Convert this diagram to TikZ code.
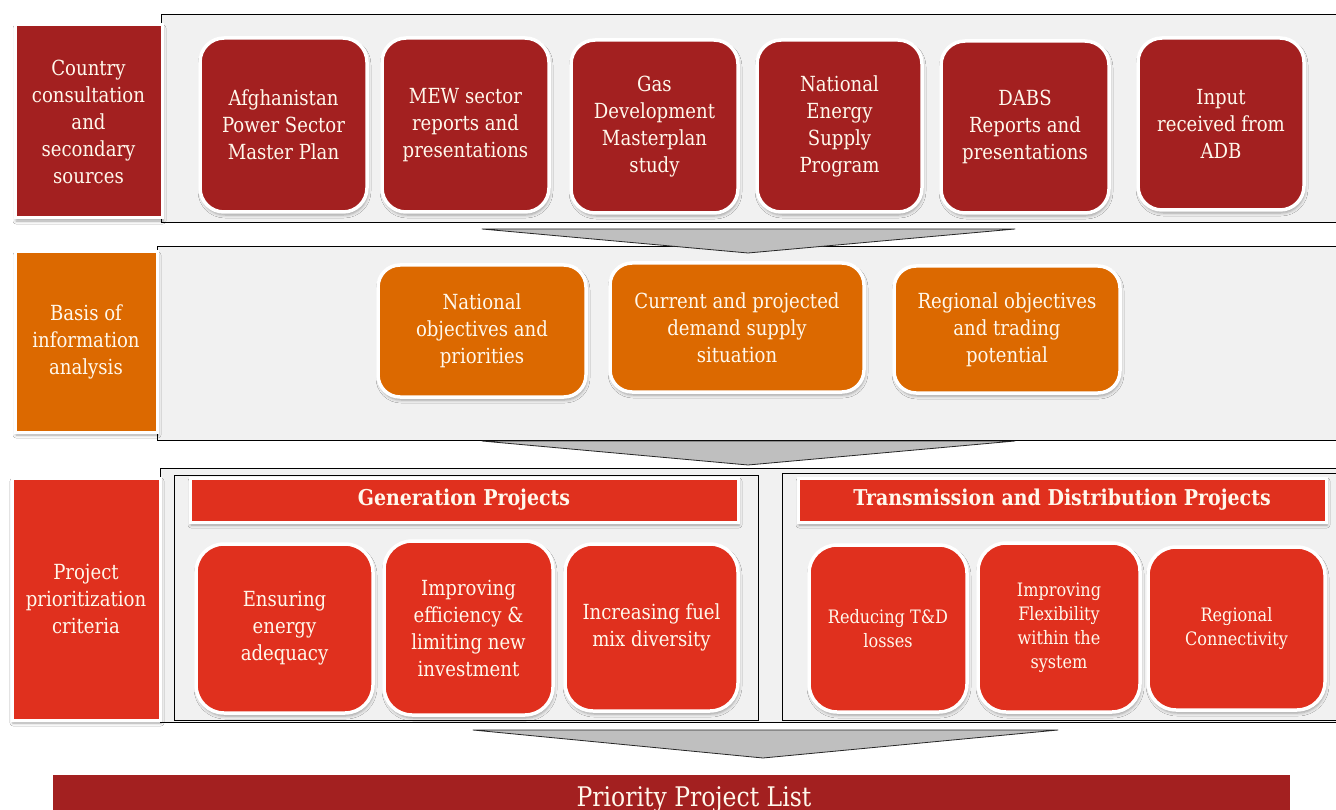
\documentclass[tikz,border=0pt]{standalone}
\usepackage{fontspec}
\setmainfont[FakeStretch=0.87]{DejaVu Serif}
\usetikzlibrary{shadows.blur}

\definecolor{pwcDark}{HTML}{A32020}
\definecolor{pwcOrange}{HTML}{DC6900}
\definecolor{pwcRed}{HTML}{E0301E}
\definecolor{panelGray}{HTML}{F1F1F1}
\definecolor{chevGray}{HTML}{BFBFBF}
\definecolor{ink}{HTML}{FFF8EC}

% place a node by its corner coordinates: name, style, x1, y1, x2, y2, text
\newcommand{\boxby}[7]{%
  \node[#2, minimum width={#5-#3}, minimum height={#6-#4}] (#1) at ({(#3+#5)/2},{(#4+#6)/2}) {#7};}

\tikzset{
  shade/.style={blur shadow={shadow xshift=1pt, shadow yshift=-3pt, shadow blur radius=3pt, shadow opacity=35}},
  card/.style={shade, draw=white, line width=3.5pt, rounded corners=24pt, text=ink, align=center,
    inner sep=0pt, font=\fontsize{20.8}{27}\selectfont},
  smallcard/.style={card, font=\fontsize{18.5}{24}\selectfont},
  label/.style={shade, draw=white, line width=3pt, text=ink, align=center, inner sep=0pt,
    font=\fontsize{20.8}{27}\selectfont},
  header/.style={shade, draw=white, line width=3pt, fill=pwcRed, text=ink, inner sep=0pt,
    font=\bfseries\fontsize{21.8}{26}\selectfont},
  panel/.style={draw=black, line width=0.8pt, fill=panelGray, inner sep=0pt},
  chevron/.style={draw=black!85, line width=0.8pt, fill=chevGray, line join=round},
}

\begin{document}
\begin{tikzpicture}[x=1pt, y=-1pt]
\useasboundingbox (0,0) rectangle (1336,810);
\fill[white] (0,0) rectangle (1336,810);

% background panels of the three bands
\boxby{panA}{panel}{161}{14}{1345}{222}{}
\boxby{panB}{panel}{157}{246}{1345}{440}{}
\boxby{panC}{panel}{160}{468}{1345}{722}{}
\boxby{panGen}{panel}{174}{475}{758}{720}{}
\boxby{panTD}{panel}{782}{473}{1345}{720}{}

% arrows between the bands
\path[chevron] (482,229) coordinate (chA1) -- (1015,229) coordinate (chA2) -- (748,253) coordinate (chA3) -- cycle;
\path[chevron] (482,441) coordinate (chB1) -- (1015,441) coordinate (chB2) -- (748,465) coordinate (chB3) -- cycle;
\path[chevron] (473,730) coordinate (chC1) -- (1058,730) coordinate (chC2) -- (763,758) coordinate (chC3) -- cycle;

% band 1: sources
\boxby{labA}{label, fill=pwcDark}{15}{25}{162}{218}{Country\\consultation\\and\\secondary\\sources}
\boxby{a1}{card, fill=pwcDark}{200}{38}{367}{212}{Afghanistan\\Power Sector\\Master Plan}
\boxby{a2}{card, fill=pwcDark}{382}{38}{549}{212}{MEW sector\\reports and\\presentations}
\boxby{a3}{card, fill=pwcDark}{571}{40}{738}{213}{Gas\\Development\\Masterplan\\study}
\boxby{a4}{card, fill=pwcDark}{757}{40}{922}{212}{National\\Energy\\Supply\\Program}
\boxby{a5}{card, fill=pwcDark}{941}{41}{1109}{213}{DABS\\Reports and\\presentations}
\boxby{a6}{card, fill=pwcDark}{1138}{38}{1304}{210}{Input\\received from\\ADB}

% band 2: analysis
\boxby{labB}{label, fill=pwcOrange}{15}{252}{157}{432}{Basis of\\information\\analysis}
\boxby{b1}{card, rounded corners=22pt, fill=pwcOrange}{378}{265}{586}{397}{National\\objectives and\\priorities}
\boxby{b2}{card, rounded corners=22pt, fill=pwcOrange}{610}{263}{864}{392}{Current and projected\\demand supply\\situation}
\boxby{b3}{card, rounded corners=22pt, fill=pwcOrange}{894}{266}{1120}{393}{Regional objectives\\and trading\\potential}

% band 3: prioritization criteria
\boxby{labC}{label, fill=pwcRed}{12}{478}{160}{720}{Project\\prioritization\\criteria}
\boxby{hGen}{header}{190}{478}{738}{522}{Generation Projects}
\boxby{hTD}{header}{798}{478}{1326}{522}{Transmission and Distribution Projects}
\boxby{g1}{card, rounded corners=28pt, fill=pwcRed}{196}{544}{373}{713}{Ensuring\\energy\\adequacy}
\boxby{g2}{card, rounded corners=28pt, fill=pwcRed}{384}{541}{553}{715}{Improving\\efficiency \&\\limiting new\\investment}
\boxby{g3}{card, rounded corners=28pt, fill=pwcRed}{565}{544}{738}{711}{Increasing fuel\\mix diversity}
\boxby{t1}{smallcard, rounded corners=28pt, fill=pwcRed}{809}{545}{967}{712}{Reducing T\&D\\losses}
\boxby{t2}{smallcard, rounded corners=28pt, fill=pwcRed}{978}{543}{1140}{712}{Improving\\Flexibility\\within the\\system}
\boxby{t3}{smallcard, rounded corners=28pt, fill=pwcRed}{1148}{547}{1325}{710}{Regional\\Connectivity}

% result bar
\boxby{listBar}{fill=pwcDark, inner sep=0pt}{53}{775}{1290}{830}{}
\node[anchor=base, text=ink, inner sep=0pt, font=\fontsize{27}{32}\selectfont] (listText) at (694,806) {Priority Project List};
\end{tikzpicture}
\end{document}
